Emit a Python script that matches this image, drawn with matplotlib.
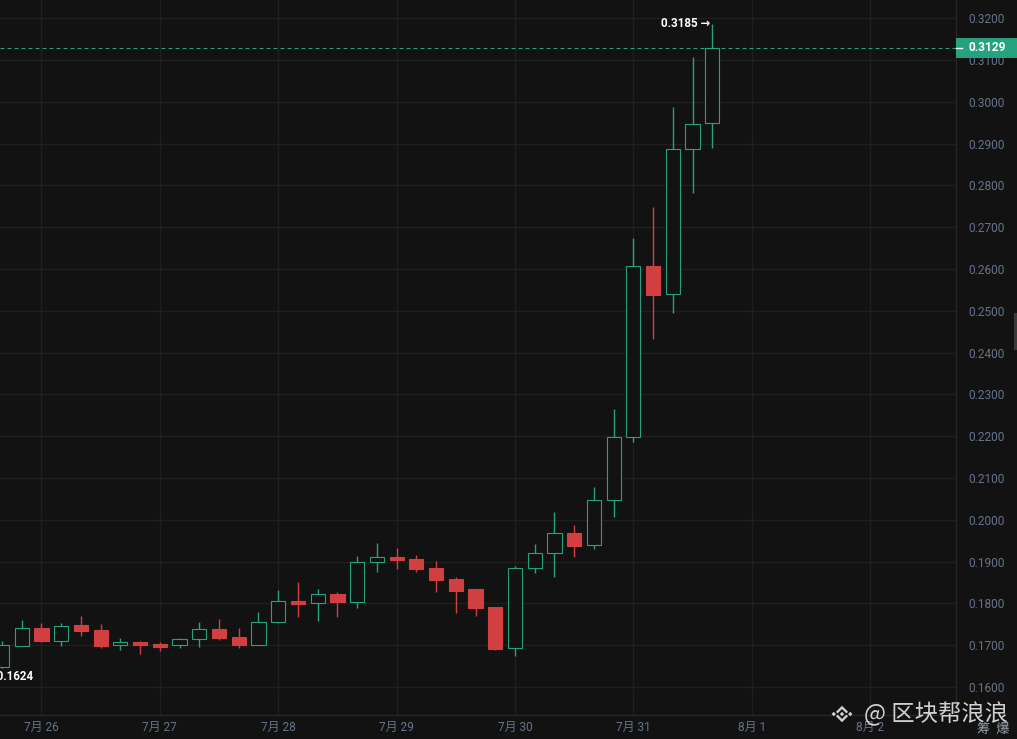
import matplotlib
matplotlib.use('Agg')
import matplotlib.pyplot as plt
import matplotlib.transforms as mtrans
from matplotlib.patches import Rectangle, Polygon
import numpy as np

# ---------------- data (4h candles, 7/25 16:00 -> 7/31 16:00) ----------------
opens = [0.1649, 0.1699, 0.1741, 0.1711, 0.1748, 0.1736, 0.1701, 0.1708, 0.1703, 0.1700,
         0.1716, 0.1739, 0.1720, 0.1701, 0.1755, 0.1805, 0.1800, 0.1822, 0.1803, 0.1898,
         0.1911, 0.1906, 0.1885, 0.1858, 0.1834, 0.1791, 0.1693, 0.1884, 0.1920, 0.1968,
         0.1939, 0.2047, 0.2197, 0.2606, 0.2539, 0.2886, 0.2949]
highs = [0.1711, 0.1760, 0.1752, 0.1754, 0.1770, 0.1751, 0.1717, 0.1709, 0.1708, 0.1717,
         0.1755, 0.1763, 0.1740, 0.1779, 0.1832, 0.1850, 0.1834, 0.1827, 0.1913, 0.1944,
         0.1932, 0.1916, 0.1901, 0.1862, 0.1835, 0.1792, 0.1889, 0.1941, 0.2019, 0.1988,
         0.2079, 0.2265, 0.2674, 0.2749, 0.2987, 0.3106, 0.3185]
lows = [0.1646, 0.1697, 0.1708, 0.1699, 0.1722, 0.1693, 0.1689, 0.1679, 0.1687, 0.1693,
        0.1696, 0.1712, 0.1694, 0.1700, 0.1754, 0.1767, 0.1757, 0.1768, 0.1790, 0.1874,
        0.1882, 0.1876, 0.1827, 0.1776, 0.1770, 0.1689, 0.1674, 0.1872, 0.1862, 0.1912,
        0.1929, 0.2006, 0.2185, 0.2432, 0.2494, 0.2781, 0.2889]
closes = [0.1700, 0.1740, 0.1711, 0.1745, 0.1735, 0.1699, 0.1708, 0.1701, 0.1696, 0.1714,
          0.1738, 0.1718, 0.1701, 0.1755, 0.1805, 0.1799, 0.1822, 0.1803, 0.1898, 0.1910,
          0.1905, 0.1883, 0.1856, 0.1830, 0.1789, 0.1691, 0.1884, 0.1920, 0.1968, 0.1938,
          0.2047, 0.2197, 0.2606, 0.2538, 0.2886, 0.2946, 0.3129]

x_tick_pos = [2, 8, 14, 20, 26, 32, 38, 44]
x_tick_labels = ['7月 26', '7月 27', '7月 28', '7月 29', '7月 30', '7月 31', '8月 1', '8月 2']
y_ticks = [0.16, 0.17, 0.18, 0.19, 0.20, 0.21, 0.22, 0.23, 0.24, 0.25, 0.26, 0.27,
           0.28, 0.29, 0.30, 0.31, 0.32]
y_tick_labels = ['%.4f' % v for v in y_ticks]

last_price = 0.3129
high_label = 0.3185
high_index = 36
low_label = 0.1624
low_index = -1

watermark = '@ 区块帮浪浪'

# ---------------- style ----------------
BG = '#121212'
GRID = '#1f1f1f'
GREEN = '#26a37e'
RED = '#d13f40'
TICK = '#66738a'
FONT = ['Roboto', 'Noto Sans CJK SC', 'DejaVu Sans']
plt.rcParams['font.family'] = FONT

W, H = 1017, 739
fig = plt.figure(figsize=(W / 100, H / 100), dpi=100, facecolor=BG)
ax = fig.add_axes([0, 24 / H, 956 / W, 715 / H])
ax.set_facecolor(BG)
ax.set_xlim(-0.1, 48.35)
ax.set_ylim(0.15330, 0.32435)

# grid
ax.set_xticks(x_tick_pos)
ax.set_xticklabels(x_tick_labels)
ax.set_yticks(y_ticks)
ax.set_yticklabels(y_tick_labels)
ax.grid(True, color=GRID, lw=1.0, zorder=0)
ax.set_axisbelow(True)
ax.yaxis.tick_right()
ax.tick_params(axis='y', length=0, pad=8.6, labelsize=8.6, labelcolor=TICK)
ax.tick_params(axis='x', length=0, pad=4.0, labelsize=8.6, labelcolor=TICK)
for s in ['top', 'left']:
    ax.spines[s].set_visible(False)
for s in ['right', 'bottom']:
    ax.spines[s].set_color('#262626')
    ax.spines[s].set_linewidth(1.0)

# candles
for i, (o, h, l, c) in enumerate(zip(opens, highs, lows, closes)):
    up = c >= o
    col = GREEN if up else RED
    lo_b, hi_b = min(o, c), max(o, c)
    w1 = ax.vlines(i, hi_b, h, color=col, lw=1.0, zorder=3)
    w2 = ax.vlines(i, l, lo_b, color=col, lw=1.0, zorder=3)
    w1.set_snap(True)
    w2.set_snap(True)
    ax.bar(i, hi_b - lo_b, bottom=lo_b, width=0.72,
           facecolor=(BG if up else col), edgecolor=col, linewidth=0.8, zorder=4)

# last price dashed line
ax.axhline(last_price, color=GREEN, lw=0.8, ls=(0, (3.6, 2.7)), zorder=2)

# last price box on the axis
ppu = 715 / (0.32435 - 0.15330)
blend = mtrans.blended_transform_factory(ax.transAxes, ax.transData)
ax.add_patch(Rectangle((1.0, last_price - 10 / ppu), 61 / 956, 20 / ppu, transform=blend,
                       facecolor=GREEN, edgecolor='none', clip_on=False, zorder=6))
ax.plot([1.0, 1.0 + 6 / 956], [last_price, last_price], transform=blend,
        color='white', lw=1.0, clip_on=False, zorder=7)
ax.text(1.0 + 12 / 956, last_price, '%.4f' % last_price, transform=blend, ha='left',
        va='center', color='white', fontsize=8.6, fontweight='bold', zorder=7, clip_on=False)

# high / low labels
ax.annotate('%.4f →' % high_label, xy=(high_index, high_label), xytext=(-1.6, 0.5),
            textcoords='offset points', ha='right', va='center', color='white',
            fontsize=8.4, fontweight='bold', family=['Roboto', 'DejaVu Sans'], zorder=8)
ax.annotate('← %.4f' % low_label, xy=(low_index, low_label), xytext=(1.5, 0),
            textcoords='offset points', ha='left', va='center', color='white',
            fontsize=8.4, fontweight='bold', family=['Roboto', 'DejaVu Sans'],
            annotation_clip=False, zorder=8)

# ---------------- decorations in pixel space ----------------
px = mtrans.Affine2D().scale(1 / W, -1 / H).translate(0, 1) + fig.transFigure

# scroll handle on right
fig.patches.append(Rectangle((1014, 313), 4, 37, transform=px, facecolor='#3a3a3a',
                             edgecolor='none'))

# watermark logo (binance-like)
cx, cy, s = 842, 714, 11
WM = '#e2e2e2'
shapes = [
    [(0, -0.2), (0.2, 0), (0, 0.2), (-0.2, 0)],
    [(0.75, -0.2), (0.95, 0), (0.75, 0.2), (0.55, 0)],
    [(-0.75, -0.2), (-0.55, 0), (-0.75, 0.2), (-0.95, 0)],
    [(-0.55, -0.2), (0, -0.75), (0.55, -0.2), (0.4, -0.05), (0, -0.45), (-0.4, -0.05)],
    [(-0.55, 0.2), (0, 0.75), (0.55, 0.2), (0.4, 0.05), (0, 0.45), (-0.4, 0.05)],
]
for sh in shapes:
    fig.patches.append(Polygon([(cx + s * a, cy + s * b) for a, b in sh], closed=True,
                               transform=px, facecolor=WM, edgecolor='none', alpha=0.92))

fig.text(864 / W, 1 - 714 / H, watermark, ha='left', va='center', fontsize=16.8,
         color=WM, alpha=0.92, family=['Noto Sans CJK SC', 'DejaVu Sans'])
fig.text(977 / W, 1 - 729 / H, '筹  爆', ha='left', va='center', fontsize=9.5,
         color='#c6cfe0', alpha=0.75, family=['Noto Sans CJK SC', 'DejaVu Sans'])

fig.savefig('out.png', dpi=100, facecolor=BG)
